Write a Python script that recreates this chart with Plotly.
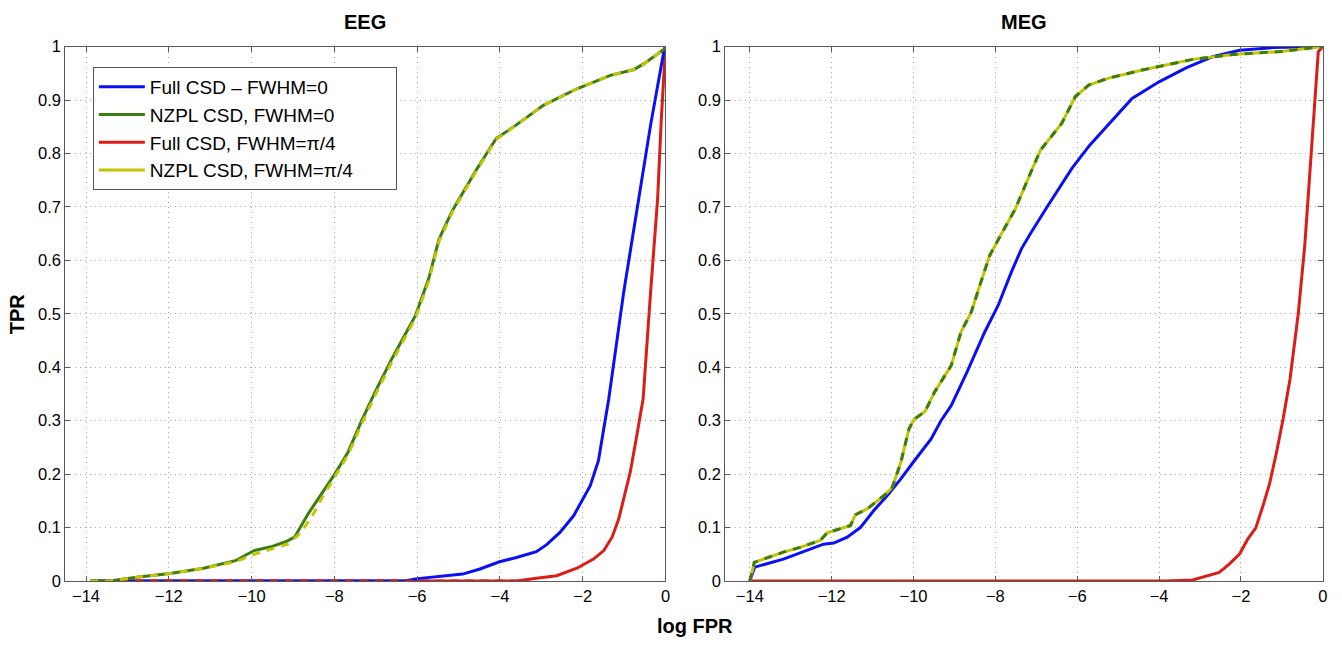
import plotly.graph_objects as go

# ---------------- EEG panel ----------------
eeg_full_fwhm0_x = [-13.9, -6.3, -6.04, -5.55, -5.07, -4.9, -4.5, -4.01, -3.6, -3.12, -2.87,
                    -2.55, -2.22, -1.98, -1.82, -1.62, -1.49, -1.37, -1.01, -0.68, -0.36, -0.03, 0.0]
eeg_full_fwhm0_y = [0.0, 0.0, 0.004, 0.008, 0.012, 0.013, 0.022, 0.036, 0.044, 0.055, 0.068,
                    0.091, 0.122, 0.154, 0.178, 0.225, 0.285, 0.341, 0.54, 0.703, 0.853, 0.995, 1.0]

eeg_nzpl_fwhm0_x = [-13.9, -13.43, -12.78, -11.97, -11.16, -10.59, -10.39, -9.94, -9.53, -9.13,
                    -8.96, -8.64, -8.31, -7.99, -7.67, -7.34, -7.02, -6.61, -6.04, -5.72, -5.47,
                    -5.15, -4.58, -4.09, -3.61, -2.95, -2.14, -1.33, -0.76, -0.52, -0.03, 0.0]
eeg_nzpl_fwhm0_y = [0.0, 0.0, 0.007, 0.014, 0.024, 0.035, 0.038, 0.057, 0.064, 0.075,
                    0.082, 0.125, 0.163, 0.2, 0.241, 0.30, 0.353, 0.416, 0.497, 0.566, 0.64,
                    0.693, 0.768, 0.828, 0.853, 0.89, 0.921, 0.946, 0.957, 0.968, 0.995, 1.0]

eeg_full_fwhm4_x = [-13.9, -3.6, -3.12, -2.63, -2.14, -1.74, -1.49, -1.29, -1.13, -0.97, -0.85,
                    -0.68, -0.54, -0.36, -0.19, -0.1, -0.02, 0.0]
eeg_full_fwhm4_y = [0.0, 0.0, 0.005, 0.01, 0.024, 0.041, 0.057, 0.082, 0.116, 0.166, 0.204,
                    0.278, 0.341, 0.54, 0.715, 0.865, 0.99, 1.0]

eeg_nzpl_fwhm4_x = [-13.9, -13.43, -12.78, -11.97, -11.16, -10.59, -10.39, -9.94, -9.53, -9.13,
                    -8.8, -8.48, -8.31, -7.99, -7.67, -7.34, -7.02, -6.61, -6.04, -5.72, -5.47,
                    -5.15, -4.58, -4.09, -3.61, -2.95, -2.14, -1.33, -0.76, -0.52, -0.03, 0.0]
eeg_nzpl_fwhm4_y = [0.0, 0.0, 0.007, 0.014, 0.024, 0.033, 0.036, 0.05, 0.06, 0.069,
                    0.091, 0.129, 0.154, 0.196, 0.236, 0.294, 0.347, 0.41, 0.492, 0.561, 0.636,
                    0.69, 0.766, 0.826, 0.853, 0.89, 0.921, 0.946, 0.957, 0.968, 0.995, 1.0]

# ---------------- MEG panel ----------------
meg_full_fwhm0_x = [-14.0, -13.88, -13.18, -12.61, -12.2, -11.95, -11.62, -11.3, -10.97, -10.64,
                    -10.31, -9.98, -9.57, -9.33, -9.08, -8.7, -8.26, -7.93, -7.61, -7.36, -7.12,
                    -6.71, -6.13, -5.7, -5.31, -4.66, -4.0, -3.34, -2.69, -2.03, -1.21, 0.0]
meg_full_fwhm0_y = [0.0, 0.026, 0.041, 0.057, 0.069, 0.071, 0.082, 0.1, 0.132, 0.16,
                    0.191, 0.225, 0.266, 0.3, 0.328, 0.39, 0.466, 0.516, 0.578, 0.622, 0.653,
                    0.703, 0.772, 0.815, 0.848, 0.903, 0.934, 0.96, 0.981, 0.993, 0.998, 1.0]

meg_nzpl_x = [-14.0, -13.89, -13.18, -12.77, -12.28, -12.11, -11.87, -11.54, -11.42, -11.13,
              -10.72, -10.52, -10.31, -10.11, -9.98, -9.72, -9.49, -9.08, -8.84, -8.59, -8.38,
              -8.14, -7.85, -7.52, -7.2, -6.9, -6.38, -6.05, -5.72, -5.23, -4.41, -3.18, -2.2,
              -0.97, 0.0]
meg_nzpl_y = [0.0, 0.035, 0.054, 0.063, 0.076, 0.09, 0.096, 0.104, 0.124, 0.135,
              0.16, 0.175, 0.222, 0.285, 0.303, 0.317, 0.353, 0.403, 0.466, 0.503, 0.553,
              0.609, 0.65, 0.695, 0.753, 0.806, 0.856, 0.906, 0.928, 0.941, 0.956, 0.976, 0.985,
              0.991, 1.0]

meg_full_fwhm4_x = [-14.0, -3.84, -3.18, -2.85, -2.53, -2.28, -2.03, -1.83, -1.64, -1.46, -1.3,
                    -1.13, -0.97, -0.8, -0.6, -0.44, -0.29, -0.11, 0.0]
meg_full_fwhm4_y = [0.0, 0.0, 0.002, 0.009, 0.016, 0.032, 0.051, 0.079, 0.099, 0.141, 0.182,
                    0.241, 0.303, 0.378, 0.5, 0.628, 0.8, 0.99, 1.0]

series_names = ["Full CSD \u2013 FWHM=0", "NZPL CSD, FWHM=0",
                "Full CSD, FWHM=\u03c0/4", "NZPL CSD, FWHM=\u03c0/4"]
panel_titles = ["EEG", "MEG"]
x_ticks = [-14, -12, -10, -8, -6, -4, -2, 0]

BLUE = "#0a10f5"
GREEN = "#3c7d12"
RED = "#dc1c16"
YELLOW = "#c4c406"
LW = 3
DASH = "8px,7px"

W, H = 1342, 645
# the page shows the figure inside the default 8px body margin, scaled to the window
MARGIN = 8
SX = W / (W + 2 * MARGIN)
SY = H / (H + 2 * MARGIN)


def px_x(X):
    """Paper x fraction for a window pixel column."""
    return (X / SX - MARGIN) / W


def px_y(Y):
    """Paper y fraction for a window pixel row."""
    return 1 - (Y / SY - MARGIN) / H


PAD = "\u2003\u2003"  # breathing room on the right of the legend box

fig = go.Figure()

# EEG: red sits beneath blue, then a dashed red pass over the shared zero run
fig.add_trace(go.Scatter(x=eeg_full_fwhm4_x, y=eeg_full_fwhm4_y, mode="lines",
                         name=series_names[2] + PAD, legendrank=3,
                         line=dict(color=RED, width=LW), xaxis="x", yaxis="y"))
fig.add_trace(go.Scatter(x=eeg_full_fwhm0_x, y=eeg_full_fwhm0_y, mode="lines",
                         name=series_names[0] + PAD, legendrank=1,
                         line=dict(color=BLUE, width=LW), xaxis="x", yaxis="y"))
flat_x = [x for x, y in zip(eeg_full_fwhm4_x, eeg_full_fwhm4_y) if y == 0.0]
flat_y = [0.0 for _ in flat_x]
fig.add_trace(go.Scatter(x=flat_x, y=flat_y, mode="lines", showlegend=False,
                         line=dict(color=RED, width=LW, dash=DASH), xaxis="x", yaxis="y"))
fig.add_trace(go.Scatter(x=eeg_nzpl_fwhm0_x, y=eeg_nzpl_fwhm0_y, mode="lines",
                         name=series_names[1] + PAD, legendrank=2,
                         line=dict(color=GREEN, width=LW), xaxis="x", yaxis="y"))
fig.add_trace(go.Scatter(x=eeg_nzpl_fwhm4_x, y=eeg_nzpl_fwhm4_y, mode="lines",
                         name=series_names[3], showlegend=False,
                         line=dict(color=YELLOW, width=LW, dash=DASH), xaxis="x", yaxis="y"))
# legend swatch for the smoothed NZPL series is drawn solid
fig.add_trace(go.Scatter(x=[None], y=[None], mode="lines", name=series_names[3] + PAD,
                         legendrank=4, showlegend=True,
                         line=dict(color=YELLOW, width=LW), xaxis="x", yaxis="y"))

# MEG
fig.add_trace(go.Scatter(x=meg_full_fwhm0_x, y=meg_full_fwhm0_y, mode="lines", showlegend=False,
                         line=dict(color=BLUE, width=LW), xaxis="x2", yaxis="y2"))
fig.add_trace(go.Scatter(x=meg_full_fwhm4_x, y=meg_full_fwhm4_y, mode="lines", showlegend=False,
                         line=dict(color=RED, width=LW), xaxis="x2", yaxis="y2"))
fig.add_trace(go.Scatter(x=meg_nzpl_x, y=meg_nzpl_y, mode="lines", showlegend=False,
                         line=dict(color=YELLOW, width=LW), xaxis="x2", yaxis="y2"))
fig.add_trace(go.Scatter(x=meg_nzpl_x, y=meg_nzpl_y, mode="lines", showlegend=False,
                         line=dict(color=GREEN, width=LW, dash=DASH), xaxis="x2", yaxis="y2"))

ydom = [px_y(582), px_y(45.5)]
tickfont = dict(family="Liberation Sans, Arial, sans-serif", size=16.5, color="black")

axis_common = dict(showline=True, linecolor="#5a5a5a", linewidth=1, mirror="ticks",
                   ticks="inside", ticklen=5, tickcolor="#5a5a5a",
                   showgrid=True, gridcolor="#a8a8a8", griddash="1px,4px", gridwidth=1,
                   zeroline=False, tickfont=tickfont)

fig.update_layout(
    width=W, height=H,
    margin=dict(l=0, r=0, t=0, b=0),
    paper_bgcolor="white", plot_bgcolor="white",
    font=dict(family="Liberation Sans, Arial, sans-serif", color="black"),
    xaxis=dict(domain=[px_x(72.7), px_x(668)], range=[-14.5, 0], tickvals=x_ticks,
               anchor="y", **axis_common),
    yaxis=dict(domain=ydom, range=[0, 1], dtick=0.1, tick0=0, anchor="x", **axis_common),
    xaxis2=dict(domain=[px_x(727.3), px_x(1320)], range=[-14.6, 0], tickvals=x_ticks,
                anchor="y2", **axis_common),
    yaxis2=dict(domain=ydom, range=[0, 1], dtick=0.1, tick0=0, anchor="x2", **axis_common),
    legend=dict(x=px_x(100), y=px_y(66), xanchor="left", yanchor="top",
                bgcolor="white", bordercolor="#555555", borderwidth=1,
                font=dict(family="Liberation Sans, Arial, sans-serif", size=19, color="black"),
                itemwidth=46, tracegroupgap=0),
    showlegend=True,
)

for cx, title in zip([px_x((72.7 + 668) / 2), px_x((727.3 + 1320) / 2)], panel_titles):
    fig.add_annotation(x=cx, y=px_y(21), xref="paper", yref="paper", text=f"<b>{title}</b>",
                       showarrow=False, font=dict(size=20, color="black"),
                       xanchor="center", yanchor="middle")

fig.add_annotation(x=px_x(25), y=px_y(314), xref="paper", yref="paper", text="<b>TPR</b>",
                   textangle=-90, showarrow=False, font=dict(size=20, color="black"),
                   xanchor="center", yanchor="middle")
fig.add_annotation(x=px_x(697), y=px_y(627), xref="paper", yref="paper", text="<b>log FPR</b>",
                   showarrow=False, font=dict(size=20, color="black"),
                   xanchor="center", yanchor="middle")

fig.write_html("out.html")
